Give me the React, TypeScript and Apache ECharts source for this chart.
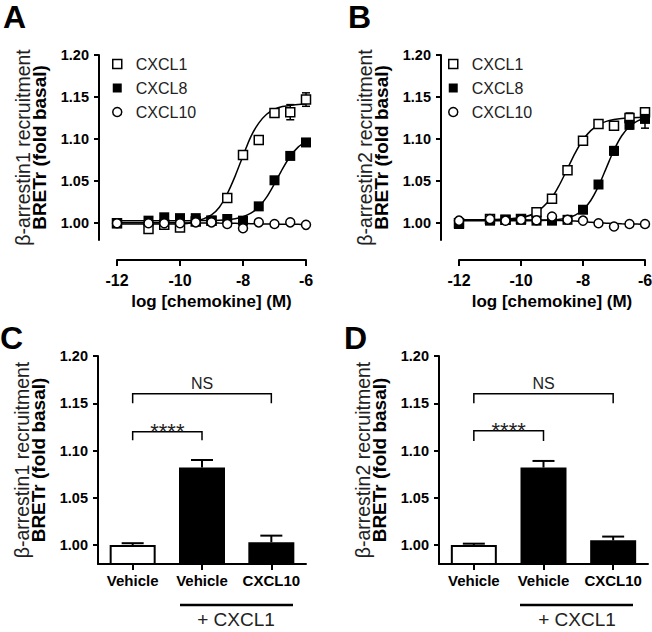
import React, { useEffect, useRef } from 'react';
import * as echarts from 'echarts';

const FONT = '"Liberation Sans", Arial, Helvetica, sans-serif';

// ---- Dose-response data (log [chemokine] (M)) ----
const LOG_X = [-12, -11, -10.5, -10, -9.5, -9, -8.5, -8, -7.5, -7, -6.5, -6];
const X_TICKS = [-12, -6];
const Y_TICKS = [1.0, 1.05, 1.1, 1.15, 1.2];

// Panel A (beta-arrestin1)
const A_CXCL1 = [1.0, 0.993, 0.998, 0.995, 1.002, 1.003, 1.03, 1.081, 1.099, 1.131, 1.132, 1.147];
const A_CXCL1_ERR = [0, 0, 0, 0, 0, 0, 0.002, 0.002, 0.004, 0.005, 0.009, 0.008];
const A_CXCL8 = [1.0, 1.003, 1.007, 1.006, 1.006, 1.003, 1.005, 1.003, 1.02, 1.051, 1.08, 1.096];
const A_CXCL8_ERR = [0, 0, 0, 0, 0, 0, 0, 0, 0, 0.002, 0.002, 0.002];
const A_CXCL10 = [1.0, 1.0, 1.0, 1.0, 1.001, 1.001, 0.999, 0.994, 1.001, 0.999, 1.001, 0.998];

// Panel B (beta-arrestin2)
const B_CXCL1 = [1.0, 1.005, 1.004, 1.005, 1.013, 1.029, 1.063, 1.098, 1.118, 1.116, 1.125, 1.132];
const B_CXCL1_ERR = [0, 0, 0, 0, 0, 0, 0, 0, 0, 0, 0.006, 0.004];
const B_CXCL8 = [0.999, 1.003, 1.004, 1.004, 1.003, 1.003, 1.004, 1.016, 1.046, 1.086, 1.117, 1.124];
const B_CXCL8_ERR = [0, 0, 0, 0, 0, 0, 0, 0, 0, 0.005, 0.005, 0.011];
const B_CXCL10 = [1.003, 1.005, 1.003, 1.004, 1.0035, 1.008, 1.004, 1.003, 1.0, 0.996, 0.999, 0.999];

// Fitted curves
const CURVE_X = [-12, -11, -10, -9.5, -9, -8.75, -8.5, -8.25, -8, -7.75, -7.5, -7.25, -7, -6.75, -6.5, -6.25, -6];
const A_FIT_CXCL1 = [0.999, 0.999, 0.999, 1.002, 1.01, 1.019, 1.035, 1.056, 1.08, 1.103, 1.119, 1.1295, 1.1355, 1.1387, 1.14, 1.1411, 1.1416];
const A_FIT_CXCL8 = [1.003, 1.003, 1.003, 1.0031, 1.0033, 1.0036, 1.0042, 1.0054, 1.0077, 1.0119, 1.0193, 1.031, 1.047, 1.0644, 1.0796, 1.0905, 1.097];
const A_FIT_CXCL10 = [1.0005, 1.0005, 1.0004, 1.0003, 1.0002, 1.0001, 1.0, 0.9998, 0.9996, 0.9994, 0.9992, 0.999, 0.9989, 0.9988, 0.9987, 0.9986, 0.9985];
const B_FIT_CXCL1 = [1.004, 1.0042, 1.0067, 1.013, 1.0308, 1.0463, 1.065, 1.0837, 1.0992, 1.1101, 1.117, 1.1211, 1.1233, 1.1246, 1.1252, 1.1256, 1.1258];
const B_FIT_CXCL8 = [1.003, 1.003, 1.003, 1.0032, 1.0038, 1.0046, 1.0063, 1.0096, 1.0159, 1.027, 1.044, 1.0655, 1.087, 1.104, 1.115, 1.1214, 1.1247];
const B_FIT_CXCL10 = [1.004, 1.004, 1.004, 1.0038, 1.0035, 1.0032, 1.003, 1.0025, 1.002, 1.0012, 1.0005, 1.0, 0.9995, 0.9992, 0.999, 0.9989, 0.9988];

// ---- Bar data ----
const BAR_CATS = ['Vehicle', 'Vehicle', 'CXCL10'];
const C_VALUES = [1.0, 1.082, 1.003];
const C_ERR = [0.002, 0.008, 0.007];
const D_VALUES = [1.0, 1.082, 1.005];
const D_ERR = [0.0015, 0.007, 0.004];
// brackets: [fromCat, toCat, top, legBottom]
const C_BRACKETS = [[0, 2, 1.16, 1.15], [0, 1, 1.12, 1.111]];
const D_BRACKETS = [[0, 2, 1.16, 1.15], [0, 1, 1.121, 1.11]];
const BRACKET_LABELS = ['NS', '****'];

const Y_NAME_1 = 'β-arrestin1 recruitment';
const Y_NAME_2 = 'β-arrestin2 recruitment';
const Y_NAME_SUB = 'BRETr (fold basal)';
const X_NAME = 'log [chemokine] (M)';
const GROUP_LABEL = '+ CXCL1';

const yAxisCommon = (gridIndex: number, title: string, offset: number) => ({
  type: 'value',
  gridIndex,
  min: 0.98,
  max: 1.2,
  offset,
  name: `{a|${title}}\n{b|${Y_NAME_SUB}}`,
  nameLocation: 'middle',
  nameRotate: 90,
  nameGap: 51,
  nameTextStyle: {
    rich: {
      a: { fontSize: 19.5, fontFamily: FONT, color: '#222', lineHeight: 16.5 },
      b: { fontSize: 19, fontFamily: FONT, fontWeight: 'bold', color: '#000', lineHeight: 16.5 },
    },
  },
  splitLine: { show: false },
  axisLine: { show: true, onZero: false, lineStyle: { color: '#000', width: 2 } },
  axisTick: { show: true, length: 5, lineStyle: { color: '#000', width: 2 }, customValues: Y_TICKS },
  axisLabel: {
    customValues: Y_TICKS,
    formatter: (v: number) => v.toFixed(2),
    fontSize: 14.5,
    fontWeight: 'bold',
    fontFamily: FONT,
    color: '#000',
    margin: 10,
  },
});

const xLogAxis = (gridIndex: number) => ({
  type: 'value',
  gridIndex,
  min: X_TICKS[0],
  max: X_TICKS[1],
  interval: 2,
  offset: 20,
  name: X_NAME,
  nameLocation: 'middle',
  nameGap: 33,
  nameTextStyle: { fontSize: 17, fontWeight: 'bold', fontFamily: FONT, color: '#000' },
  splitLine: { show: false },
  axisLine: { show: true, onZero: false, lineStyle: { color: '#000', width: 2 } },
  axisTick: { show: true, length: 6, lineStyle: { color: '#000', width: 2 } },
  axisLabel: { fontSize: 16, fontWeight: 'bold', fontFamily: FONT, color: '#000', margin: 12 },
});

const xCatAxis = (gridIndex: number) => ({
  type: 'category',
  gridIndex,
  data: BAR_CATS,
  splitLine: { show: false },
  axisLine: { show: true, onZero: false, lineStyle: { color: '#000', width: 2 } },
  axisTick: { show: true, alignWithLabel: true, length: 6, lineStyle: { color: '#000', width: 2 } },
  axisLabel: { fontSize: 15, fontWeight: 'bold', fontFamily: FONT, color: '#000', margin: 9, interval: 0 },
});

const openSquare = { color: '#fff', borderColor: '#000', borderWidth: 1.5 };
const filled = { color: '#000', borderColor: '#000', borderWidth: 0 };

const scatter = (name: string, g: number, ys: number[], symbol: string, style: any, size: number) => ({
  type: 'scatter',
  name,
  xAxisIndex: g,
  yAxisIndex: g,
  symbol,
  symbolSize: size,
  itemStyle: { ...style, opacity: 1 },
  z: 4,
  silent: true,
  data: LOG_X.map((x, i) => [x, ys[i]]),
});

const fit = (name: string, g: number, ys: number[]) => ({
  type: 'line',
  name,
  xAxisIndex: g,
  yAxisIndex: g,
  showSymbol: false,
  symbol: 'none',
  smooth: 0.3,
  lineStyle: { color: '#000', width: 1.5 },
  z: 2,
  silent: true,
  data: CURVE_X.map((x, i) => [x, ys[i]]),
});

const errBars = (g: number, ys: number[], errs: number[]) => ({
  type: 'custom',
  xAxisIndex: g,
  yAxisIndex: g,
  z: 3,
  silent: true,
  encode: { x: 0, y: [1, 2] },
  data: LOG_X.map((x, i) => [x, ys[i] - errs[i], ys[i] + errs[i]]).filter((_, i) => errs[i] > 0),
  renderItem: (_p: any, api: any) => {
    const lo = api.coord([api.value(0), api.value(1)]);
    const hi = api.coord([api.value(0), api.value(2)]);
    const w = 4;
    const st = { stroke: '#000', lineWidth: 1.5 };
    return {
      type: 'group',
      children: [
        { type: 'line', shape: { x1: lo[0], y1: lo[1], x2: hi[0], y2: hi[1] }, style: st },
        { type: 'line', shape: { x1: lo[0] - w, y1: lo[1], x2: lo[0] + w, y2: lo[1] }, style: st },
        { type: 'line', shape: { x1: hi[0] - w, y1: hi[1], x2: hi[0] + w, y2: hi[1] }, style: st },
      ],
    };
  },
});

const bars = (g: number, vals: number[]) => ({
  type: 'bar',
  xAxisIndex: g,
  yAxisIndex: g,
  barWidth: 46,
  clip: true,
  z: 2,
  silent: true,
  data: vals.map((v, i) => ({
    value: v,
    itemStyle: i === 0 ? { color: '#fff', borderColor: '#000', borderWidth: 2 } : { color: '#000', borderColor: '#000', borderWidth: 2 },
  })),
});

const barErr = (g: number, vals: number[], errs: number[]) => ({
  type: 'custom',
  xAxisIndex: g,
  yAxisIndex: g,
  z: 3,
  silent: true,
  encode: { x: 0, y: [1, 2] },
  data: vals.map((v, i) => [i, v, v + errs[i]]),
  renderItem: (_p: any, api: any) => {
    const lo = api.coord([api.value(0), api.value(1)]);
    const hi = api.coord([api.value(0), api.value(2)]);
    const w = 11;
    const st = { stroke: '#000', lineWidth: 2 };
    return {
      type: 'group',
      children: [
        { type: 'line', shape: { x1: lo[0], y1: lo[1], x2: hi[0], y2: hi[1] }, style: st },
        { type: 'line', shape: { x1: hi[0] - w, y1: hi[1], x2: hi[0] + w, y2: hi[1] }, style: st },
      ],
    };
  },
});

const brackets = (g: number, br: number[][]) => ({
  type: 'custom',
  xAxisIndex: g,
  yAxisIndex: g,
  z: 5,
  silent: true,
  clip: false,
  encode: { x: [0, 1], y: [2, 3] },
  data: br,
  renderItem: (p: any, api: any) => {
    const a = api.coord([api.value(0), api.value(2)]);
    const b = api.coord([api.value(1), api.value(2)]);
    const leg = api.coord([api.value(0), api.value(3)]);
    const label = BRACKET_LABELS[p.dataIndex];
    const isStar = label === '****';
    return {
      type: 'group',
      children: [
        {
          type: 'polyline',
          shape: { points: [[a[0], leg[1]], [a[0], a[1]], [b[0], b[1]], [b[0], leg[1]]] },
          style: { stroke: '#000', lineWidth: 1.5, fill: 'none' },
        },
        {
          type: 'text',
          style: {
            text: label,
            x: (a[0] + b[0]) / 2,
            y: isStar ? a[1] : a[1] - 10,
            align: 'center',
            verticalAlign: 'middle',
            fontSize: isStar ? 22 : 16,
            fontFamily: FONT,
            fill: '#222',
          },
        },
      ],
    };
  },
});

const LEGEND_ITEMS = [
  { name: 'CXCL1', icon: 'rect', itemStyle: { color: '#fff', borderColor: '#000', borderWidth: 1.5 } },
  { name: 'CXCL8', icon: 'rect', itemStyle: { color: '#000', borderWidth: 0 } },
  { name: 'CXCL10', icon: 'circle', itemStyle: { color: '#fff', borderColor: '#000', borderWidth: 1.5 } },
];

const legendAt = (left: number) => ({
  left,
  top: 51,
  orient: 'vertical',
  itemWidth: 9,
  itemHeight: 9,
  itemGap: 8,
  selectedMode: false,
  textStyle: { fontSize: 16, color: '#222', fontFamily: FONT, padding: [0, 0, 0, 9] },
  data: LEGEND_ITEMS,
});

const letter = (t: string, x: number, y: number) => ({
  type: 'text',
  x,
  y,
  style: { text: t, fontSize: 32, fontWeight: 'bold', fontFamily: FONT, fill: '#000', align: 'left', verticalAlign: 'middle' },
});

export default function App() {
  const ref = useRef<HTMLDivElement>(null);
  useEffect(() => {
    if (!ref.current) return;
    const chart = echarts.init(ref.current, null, { renderer: 'svg' });
    const option: any = {
      animation: false,
      backgroundColor: '#fff',
      textStyle: { fontFamily: FONT },
      grid: [
        { left: 117, top: 55, width: 189, height: 185, outerBoundsMode: 'none', containLabel: false },
        { left: 459, top: 55, width: 186, height: 185, outerBoundsMode: 'none', containLabel: false },
        { left: 98, top: 356, width: 208, height: 208, outerBoundsMode: 'none', containLabel: false },
        { left: 439, top: 356, width: 209, height: 208, outerBoundsMode: 'none', containLabel: false },
      ],
      xAxis: [xLogAxis(0), xLogAxis(1), xCatAxis(2), xCatAxis(3)],
      yAxis: [
        yAxisCommon(0, Y_NAME_1, 18),
        yAxisCommon(1, Y_NAME_2, 18),
        yAxisCommon(2, Y_NAME_1, 0),
        yAxisCommon(3, Y_NAME_2, 0),
      ],
      legend: [legendAt(107), legendAt(443)],
      series: [
        fit('CXCL1 fit A', 0, A_FIT_CXCL1),
        fit('CXCL8 fit A', 0, A_FIT_CXCL8),
        fit('CXCL10 fit A', 0, A_FIT_CXCL10),
        errBars(0, A_CXCL1, A_CXCL1_ERR),
        errBars(0, A_CXCL8, A_CXCL8_ERR),
        scatter('CXCL1', 0, A_CXCL1, 'rect', openSquare, 9),
        scatter('CXCL8', 0, A_CXCL8, 'rect', filled, 10),
        scatter('CXCL10', 0, A_CXCL10, 'circle', openSquare, 9),

        fit('CXCL1 fit B', 1, B_FIT_CXCL1),
        fit('CXCL8 fit B', 1, B_FIT_CXCL8),
        fit('CXCL10 fit B', 1, B_FIT_CXCL10),
        errBars(1, B_CXCL1, B_CXCL1_ERR),
        errBars(1, B_CXCL8, B_CXCL8_ERR),
        scatter('CXCL1', 1, B_CXCL1, 'rect', openSquare, 9),
        scatter('CXCL8', 1, B_CXCL8, 'rect', filled, 10),
        scatter('CXCL10', 1, B_CXCL10, 'circle', openSquare, 9),

        bars(2, C_VALUES),
        barErr(2, C_VALUES, C_ERR),
        brackets(2, C_BRACKETS),
        bars(3, D_VALUES),
        barErr(3, D_VALUES, D_ERR),
        brackets(3, D_BRACKETS),
      ],
      graphic: [
        letter('A', 3, 17),
        letter('B', 348, 17),
        letter('C', 0, 338),
        letter('D', 344, 338),
        { type: 'line', shape: { x1: 180, y1: 605, x2: 293, y2: 605 }, style: { stroke: '#000', lineWidth: 2.5 } },
        { type: 'line', shape: { x1: 520, y1: 605, x2: 633, y2: 605 }, style: { stroke: '#000', lineWidth: 2.5 } },
        { type: 'text', x: 236, y: 619, style: { text: GROUP_LABEL, fontSize: 19, fontFamily: FONT, fill: '#222', align: 'center', verticalAlign: 'middle' } },
        { type: 'text', x: 577, y: 619, style: { text: GROUP_LABEL, fontSize: 19, fontFamily: FONT, fill: '#222', align: 'center', verticalAlign: 'middle' } },
      ],
    };
    chart.setOption(option);
    return () => chart.dispose();
  }, []);
  return <div ref={ref} style={{ position: 'absolute', left: 0, top: 0, width: 652, height: 632 }} />;
}
